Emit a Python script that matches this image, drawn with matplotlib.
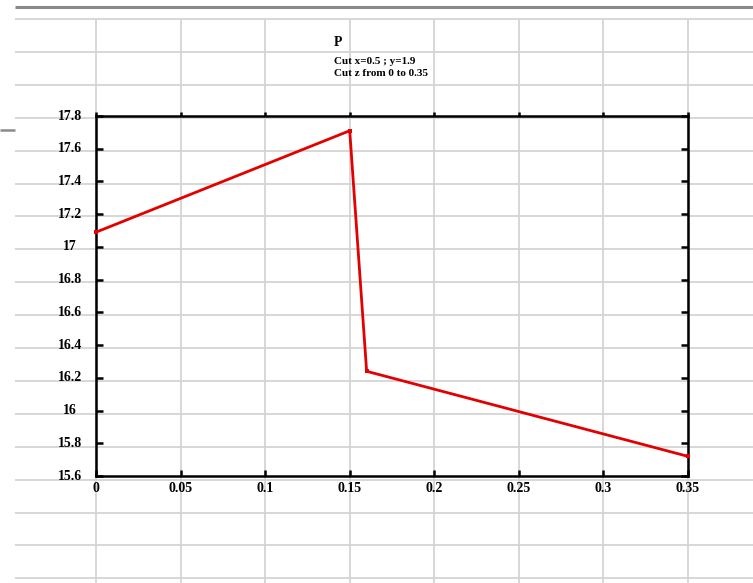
import matplotlib
matplotlib.use("Agg")
import matplotlib.pyplot as plt
import numpy as np

# Profile of P along z for the cut x=0.5, y=1.9
z_values = [0.0, 0.15, 0.16, 0.35]
p_values = [17.09, 17.71, 16.24, 15.72]

x_ticks = [0, 0.05, 0.1, 0.15, 0.2, 0.25, 0.3, 0.35]
x_tick_labels = ["0", "0.05", "0.1", "0.15", "0.2", "0.25", "0.3", "0.35"]
y_ticks = [15.6, 15.8, 16.0, 16.2, 16.4, 16.6, 16.8, 17.0, 17.2, 17.4, 17.6, 17.8]
y_tick_labels = ["15.6", "15.8", "16", "16.2", "16.4", "16.6", "16.8", "17",
                 "17.2", "17.4", "17.6", "17.8"]

title_main = "P"
title_line1 = "Cut x=0.5 ; y=1.9"
title_line2 = "Cut z from 0 to 0.35"

W, H = 753, 583
fig = plt.figure(figsize=(W / 100, H / 100), dpi=100)
fig.patch.set_facecolor("white")

serif = ["Liberation Serif", "DejaVu Serif"]

# Worksheet cell grid behind the chart (pixel coordinates)
bg = fig.add_axes([0, 0, 1, 1], zorder=0)
bg.set_xlim(0, W)
bg.set_ylim(H, 0)
bg.axis("off")
grid_c = "#d4d4d4"
row_y = 19 + 32.9 * np.arange(18)
for yy in row_y:
    bg.plot([15, W], [yy, yy], color=grid_c, lw=1.3, solid_capstyle="butt")
col_x = 96 + 84.57 * np.arange(8)
for xx in col_x:
    bg.plot([xx, xx], [19, H], color=grid_c, lw=1.3, solid_capstyle="butt")
bg.plot([15, W], [7, 7], color="#8a8a8a", lw=2.2, solid_capstyle="butt")
bg.plot([0, 15], [130, 130], color="#8a8a8a", lw=1.8, solid_capstyle="butt")

# Chart titles
bg.text(334, 42, title_main, family=serif, fontsize=10, fontweight="bold",
        ha="left", va="center", color="black")
bg.text(334, 61, title_line1, family=serif, fontsize=8, fontweight="bold",
        ha="left", va="center", color="black")
bg.text(334, 74, title_line2, family=serif, fontsize=8, fontweight="bold",
        ha="left", va="center", color="black")

# Plot area
left, right, top, bottom = 96, 688, 116, 476
ax = fig.add_axes([left / W, 1 - bottom / H, (right - left) / W, (bottom - top) / H],
                  zorder=2)
ax.patch.set_alpha(0)
ax.plot(z_values, p_values, color="#e20000", lw=2.0, marker="s", markersize=3,
        markerfacecolor="#e20000", markeredgewidth=0, clip_on=False, zorder=3)

ax.set_xlim(0, 0.35)
ax.set_ylim(15.6, 17.8)
ax.set_xticks(x_ticks)
ax.set_yticks(y_ticks)
ax.set_xticklabels(x_tick_labels)
ax.set_yticklabels([])

for s in ax.spines.values():
    s.set_linewidth(1.8)
    s.set_color("black")

ax.tick_params(axis="both", direction="in", length=5, width=1.8, color="black",
               right=True)
ax.tick_params(axis="x", pad=4, labelsize=10, length=4)
ax.tick_params(axis="x", which="major", top=True)
for t in ax.xaxis.get_major_ticks():
    t.tick2line.set_marker(matplotlib.lines.TICKUP)
    t.tick2line.set_markersize(3)
for lab in ax.get_xticklabels():
    lab.set_family(serif)
    lab.set_fontweight("bold")

# Y labels centred in the margin
for v, lab in zip(y_ticks, y_tick_labels):
    ax.text(-26 / 592, v, lab, transform=ax.get_yaxis_transform(),
            family=serif, fontsize=10, fontweight="bold",
            ha="center", va="center", color="black", clip_on=False)

fig.savefig("out.png", dpi=100)
